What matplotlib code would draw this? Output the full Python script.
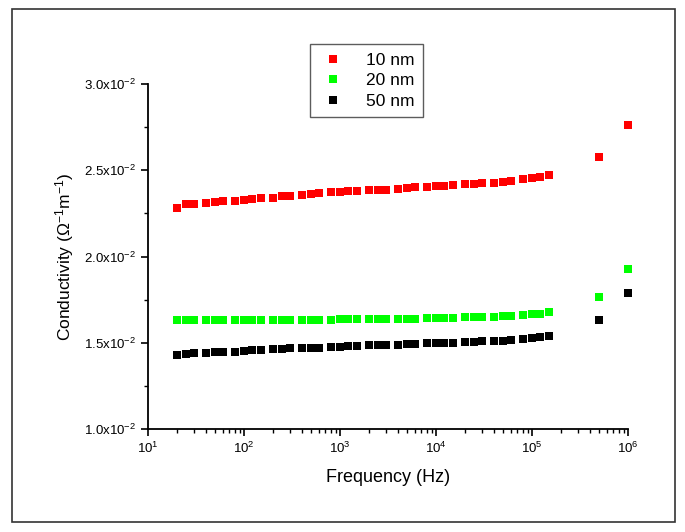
import matplotlib
matplotlib.use('Agg')
import matplotlib.pyplot as plt
import numpy as np
from matplotlib.ticker import FuncFormatter, MultipleLocator, LogLocator
from matplotlib.patches import Rectangle

plt.rcParams['font.family'] = ['Liberation Sans', 'DejaVu Sans']
plt.rcParams['mathtext.fontset'] = 'custom'
plt.rcParams['mathtext.rm'] = 'Liberation Sans'
plt.rcParams['mathtext.it'] = 'Liberation Sans:italic'
plt.rcParams['mathtext.bf'] = 'Liberation Sans:bold'

# frequency (Hz)
freq = [20, 25, 30, 40, 50, 60, 80,
        100, 120, 150, 200, 250, 300, 400, 500, 600, 800,
        1000, 1200, 1500, 2000, 2500, 3000, 4000, 5000, 6000, 8000,
        10000, 12000, 15000, 20000, 25000, 30000, 40000, 50000, 60000, 80000,
        100000, 120000, 150000, 500000, 1000000]

# conductivity (x1e-2 ohm^-1 m^-1)
cond_10nm = [2.283, 2.303, 2.306, 2.312, 2.316, 2.323, 2.323, 2.329, 2.332, 2.337,
             2.341, 2.349, 2.351, 2.358, 2.362, 2.366, 2.372, 2.372, 2.378, 2.380,
             2.386, 2.387, 2.386, 2.391, 2.397, 2.401, 2.405, 2.409, 2.410, 2.414,
             2.419, 2.420, 2.426, 2.428, 2.432, 2.438, 2.448, 2.453, 2.463, 2.474,
             2.579, 2.760]
cond_20nm = [1.632, 1.633, 1.632, 1.631, 1.632, 1.631, 1.632, 1.633, 1.632, 1.632,
             1.633, 1.633, 1.632, 1.633, 1.634, 1.634, 1.634, 1.635, 1.635, 1.636,
             1.636, 1.637, 1.638, 1.638, 1.638, 1.640, 1.642, 1.642, 1.643, 1.643,
             1.647, 1.647, 1.649, 1.651, 1.653, 1.653, 1.661, 1.665, 1.668, 1.678,
             1.767, 1.928]
cond_50nm = [1.429, 1.435, 1.441, 1.441, 1.445, 1.446, 1.448, 1.452, 1.456, 1.456,
             1.462, 1.464, 1.468, 1.468, 1.471, 1.471, 1.475, 1.475, 1.479, 1.481,
             1.485, 1.485, 1.485, 1.487, 1.491, 1.491, 1.497, 1.499, 1.499, 1.500,
             1.503, 1.504, 1.508, 1.508, 1.512, 1.516, 1.522, 1.528, 1.532, 1.541,
             1.632, 1.787]

series = [
    ('10 nm', cond_10nm, '#ff0000'),
    ('20 nm', cond_20nm, '#00ff00'),
    ('50 nm', cond_50nm, '#000000'),
]

fig = plt.figure(figsize=(6.85, 5.32), dpi=100)
ax = fig.add_axes([0.216, 0.1936, 0.701, 0.6485])

for label, vals, color in series:
    ax.plot(freq, np.array(vals) * 1e-2, 's', color=color, markersize=5.2,
            markeredgewidth=0, label=label, linestyle='none', clip_on=False)

ax.set_xscale('log')
ax.set_xlim(10, 1e6)
ax.set_ylim(0.010, 0.030)

ax.yaxis.set_major_locator(MultipleLocator(0.005))
ax.yaxis.set_minor_locator(MultipleLocator(0.0025))
ax.yaxis.set_major_formatter(FuncFormatter(
    lambda v, p: r'%.1fx10$^{\mathregular{-2}}$' % (v * 100)))
ax.xaxis.set_major_locator(LogLocator(base=10, numticks=10))
ax.xaxis.set_minor_locator(LogLocator(base=10, subs=np.arange(2, 10), numticks=20))

ax.spines['top'].set_visible(False)
ax.spines['right'].set_visible(False)
ax.spines['left'].set_linewidth(1.3)
ax.spines['bottom'].set_linewidth(1.3)
ax.tick_params(which='major', direction='out', length=5, width=1.2, labelsize=9.5)
ax.tick_params(which='minor', direction='out', length=3, width=1.0)

ax.set_xlabel('Frequency (Hz)', fontsize=13, labelpad=9)
ax.set_ylabel(r'Conductivity ($\Omega^{\mathregular{-1}}$m$^{\mathregular{-1}}$)',
              fontsize=12.5, labelpad=6)

leg = ax.legend(loc='upper left', bbox_to_anchor=(0.4526, 0.917),
                bbox_transform=fig.transFigure, fontsize=12.5, frameon=True,
                fancybox=False, edgecolor='#333333', handletextpad=1.1,
                borderpad=0.5, labelspacing=0.3, handlelength=1.6,
                borderaxespad=0)
leg.get_frame().set_linewidth(1.0)

fig.patches.append(Rectangle((0.0175, 0.0188), 0.968, 0.964, transform=fig.transFigure,
                             fill=False, edgecolor='#333333', linewidth=1.2))

fig.savefig('out.png', dpi=100)
